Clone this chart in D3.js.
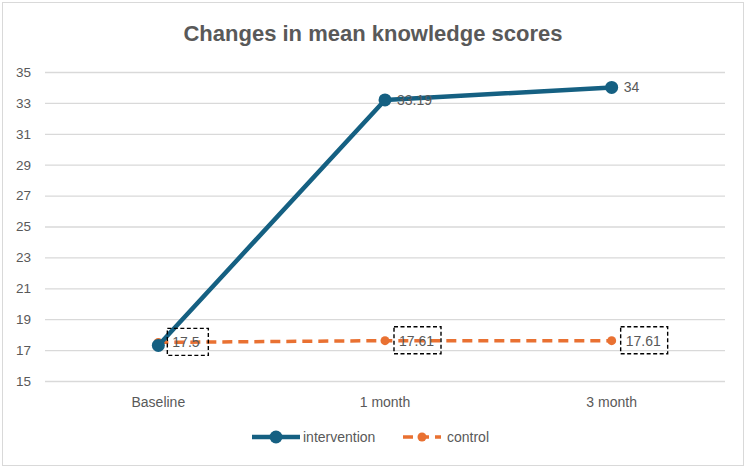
<!DOCTYPE html>
<html>
<head>
<meta charset="utf-8">
<script src="https://cdn.jsdelivr.net/npm/d3@7"></script>
<style>
  body { margin: 0; background: #fff; }
  svg { display: block; font-family: "Liberation Sans", Arial, sans-serif; }
</style>
</head>
<body>
<svg></svg>
<script>
const width = 746;
const height = 468;

// data
const categories = ["Baseline", "1 month", "3 month"];
const intervention = [17.3, 33.19, 34];
const control = [17.5, 17.61, 17.61];
const interventionLabels = ["", "33.19", "34"];
const controlLabels = ["17.5", "17.61", "17.61"];
const yTicks = [15, 17, 19, 21, 23, 25, 27, 29, 31, 33, 35];

const blue = "#156082";
const orange = "#E97132";
const textColor = "#595959";

let svg = d3.select("svg")
    .attr("width", width)
    .attr("height", height);

// chart frame
svg.append("rect")
    .attr("x", 2.5).attr("y", 2.5)
    .attr("width", width - 5).attr("height", height - 5)
    .attr("fill", "#fff")
    .attr("stroke", "#d9d9d9");

svg.append("text")
    .attr("x", 373).attr("y", 41)
    .attr("text-anchor", "middle")
    .attr("font-size", 22)
    .attr("font-weight", "bold")
    .attr("fill", textColor)
    .text("Changes in mean knowledge scores");

const plotLeft = 45, plotRight = 725, plotTop = 72, plotBottom = 381;

let scaleX = d3.scaleBand()
    .domain(categories)
    .range([plotLeft, plotRight]);

let scaleY = d3.scaleLinear()
    .domain([15, 35])
    .range([plotBottom, plotTop]);

// grid + y labels
let axisY = d3.axisLeft(scaleY)
    .tickValues(yTicks)
    .tickSize(-(plotRight - plotLeft))
    .tickPadding(14);

let gy = svg.append("g")
    .attr("transform", `translate(${plotLeft},0)`)
    .call(axisY);
gy.select(".domain").remove();
gy.selectAll(".tick line").attr("stroke", "#d9d9d9").attr("stroke-width", 1.3);
gy.selectAll(".tick text")
    .attr("fill", textColor)
    .attr("font-size", 13.5)
    .attr("font-family", "Liberation Sans, Arial, sans-serif");

// x labels
let axisX = d3.axisBottom(scaleX).tickSize(0).tickPadding(16);
let gx = svg.append("g")
    .attr("transform", `translate(0,${plotBottom})`)
    .call(axisX);
gx.select(".domain").remove();
gx.selectAll(".tick text")
    .attr("fill", textColor)
    .attr("font-size", 14)
    .attr("font-family", "Liberation Sans, Arial, sans-serif");

const cx = d => scaleX(d) + scaleX.bandwidth() / 2;

let line = d3.line()
    .x((d, i) => cx(categories[i]))
    .y(d => scaleY(d));

// control series
svg.append("path")
    .datum(control)
    .attr("d", line)
    .attr("fill", "none")
    .attr("stroke", orange)
    .attr("stroke-width", 3.5)
    .attr("stroke-dasharray", "10,6");

svg.selectAll("circle.ctrl")
    .data(control)
    .enter()
    .append("circle")
    .attr("class", "ctrl")
    .attr("cx", (d, i) => cx(categories[i]))
    .attr("cy", d => scaleY(d))
    .attr("r", 4.5)
    .attr("fill", orange);

// intervention series
svg.append("path")
    .datum(intervention)
    .attr("d", line)
    .attr("fill", "none")
    .attr("stroke", blue)
    .attr("stroke-width", 4.5)
    .attr("stroke-linejoin", "round");

svg.selectAll("circle.int")
    .data(intervention)
    .enter()
    .append("circle")
    .attr("class", "int")
    .attr("cx", (d, i) => cx(categories[i]))
    .attr("cy", d => scaleY(d))
    .attr("r", 6.5)
    .attr("fill", blue);

// intervention labels
svg.selectAll("text.intlab")
    .data(intervention)
    .enter()
    .append("text")
    .attr("class", "intlab")
    .attr("x", (d, i) => cx(categories[i]) + 12)
    .attr("y", d => scaleY(d) + 5)
    .attr("font-size", 14)
    .attr("fill", textColor)
    .text((d, i) => interventionLabels[i]);

// control labels with dashed boxes
let ctrlLab = svg.selectAll("g.ctrllab")
    .data(control)
    .enter()
    .append("g")
    .attr("class", "ctrllab")
    .attr("transform", (d, i) => `translate(${cx(categories[i]) + 9},${scaleY(d) - 14})`);

ctrlLab.append("rect")
    .attr("width", (d, i) => controlLabels[i].length > 4 ? 47 : 41)
    .attr("height", 27)
    .attr("fill", "none")
    .attr("stroke", "#000")
    .attr("stroke-width", 1.4)
    .attr("stroke-dasharray", "4,2.5");

ctrlLab.append("text")
    .attr("x", 5)
    .attr("y", 19)
    .attr("font-size", 14)
    .attr("fill", textColor)
    .text((d, i) => controlLabels[i]);

// legend
let legend = svg.append("g").attr("transform", "translate(0,437)");
legend.append("line")
    .attr("x1", 252).attr("x2", 300)
    .attr("stroke", blue).attr("stroke-width", 4.5);
legend.append("circle")
    .attr("cx", 276).attr("r", 6.5).attr("fill", blue);
legend.append("text")
    .attr("x", 303).attr("y", 5)
    .attr("font-size", 14).attr("fill", textColor)
    .text("intervention");

legend.append("line")
    .attr("x1", 403).attr("x2", 441)
    .attr("stroke", orange).attr("stroke-width", 3.5)
    .attr("stroke-dasharray", "10,6");
legend.append("circle")
    .attr("cx", 422).attr("r", 4.5).attr("fill", orange);
legend.append("text")
    .attr("x", 447).attr("y", 5)
    .attr("font-size", 14).attr("fill", textColor)
    .text("control");
</script>
</body>
</html>
